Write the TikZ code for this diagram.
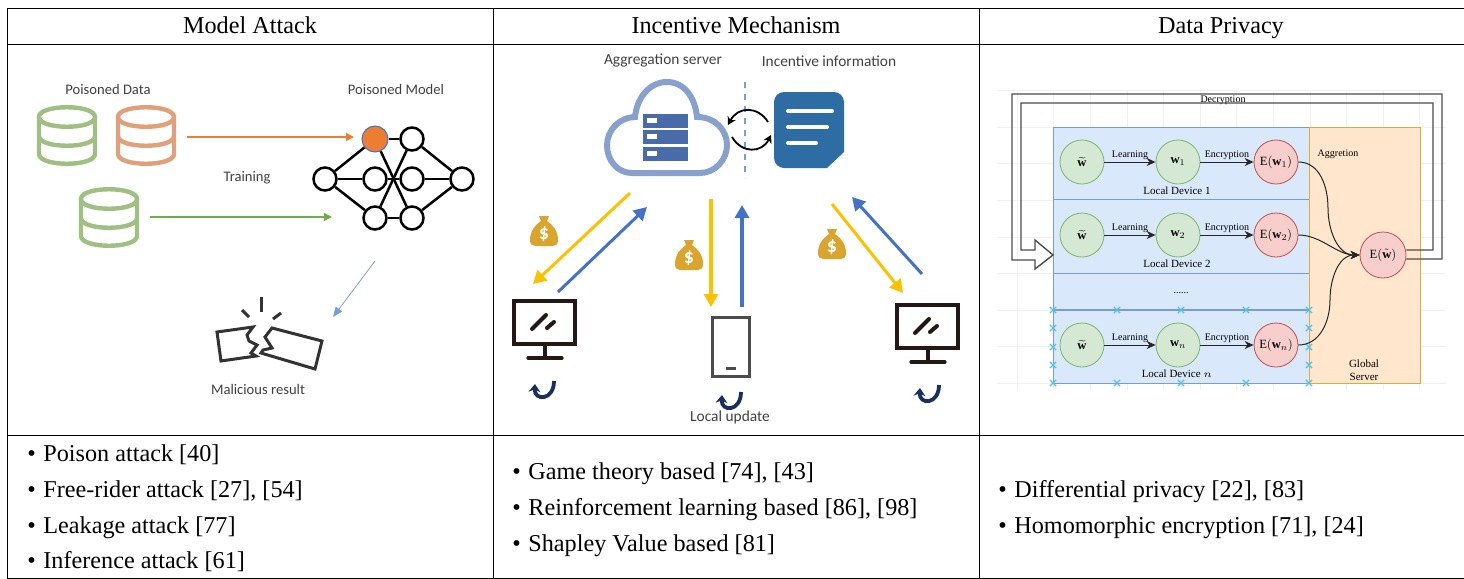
\documentclass[tikz,border=0pt]{standalone}
\usepackage{fontspec}
\usepackage{graphicx}
\setmainfont{Liberation Serif}
\newfontfamily\figfont{Carlito}
\usetikzlibrary{arrows.meta,calc,shapes.misc}
\definecolor{dbgreen}{HTML}{A0BF82}
\definecolor{dborange}{HTML}{E0A07A}
\definecolor{arrorange}{HTML}{ED7D31}
\definecolor{arrgreen}{HTML}{70AD47}
\definecolor{arrblue}{HTML}{4472C4}
\definecolor{arryellow}{HTML}{FFC000}
\definecolor{cloudblue}{HTML}{87A0CC}
\definecolor{rackblue}{HTML}{4A6BAA}
\definecolor{docblue}{HTML}{2E6DA4}
\definecolor{baggold}{HTML}{D9A52E}
\definecolor{termblack}{HTML}{231815}
\definecolor{loopnavy}{HTML}{1B2F5E}
\definecolor{panelblue}{HTML}{DAE8FC}
\definecolor{panelblueline}{HTML}{7E9CCB}
\definecolor{panelorange}{HTML}{FFE6CC}
\definecolor{panelorangeline}{HTML}{E3A93C}
\definecolor{nodegreen}{HTML}{D5E8D4}
\definecolor{nodegreenline}{HTML}{82B366}
\definecolor{nodered}{HTML}{F8CECC}
\definecolor{noderedline}{HTML}{B85450}
\definecolor{crosscyan}{HTML}{4FC3E8}
\tikzset{
  cellhead/.style={anchor=base,font=\fontsize{12.1}{14}\selectfont},
  itemtext/.style={anchor=base west,font=\fontsize{12.1}{14}\selectfont,inner sep=0},
  figlabel/.style={font=\figfont\fontsize{7.3}{8}\selectfont,text=black!75,inner sep=0},
  figlabelb/.style={figlabel,font=\figfont\fontsize{7.7}{9}\selectfont},
  neuron/.style={circle,draw,line width=1.25pt,fill=white,minimum size=11.5pt,inner sep=0},
  syn/.style={line width=1.25pt},
  thickarr/.style={line width=1.5pt,-{Triangle[length=6.5pt,width=7pt]}},
  flowlabel/.style={font=\fontsize{5}{6}\selectfont,inner sep=1pt},
  devlabel/.style={font=\fontsize{5.5}{6.6}\selectfont,inner sep=1pt},
  greennode/.style={circle,draw=nodegreenline,fill=nodegreen,line width=.4pt,minimum size=22pt,inner sep=0},
  rednode/.style={circle,draw=noderedline,fill=nodered,line width=.4pt,minimum size=22pt,inner sep=0},
  flowarr/.style={line width=.5pt,black!85,-{Stealth[length=4.5pt,width=4pt]}},
  crossmark/.style={cross out,draw=crosscyan,line width=.6pt,minimum size=2.5pt,inner sep=0},
}
\newcommand{\nodemath}[1]{\scalebox{.63}{$#1$}}
\newcommand{\dbicon}[4]{% name, x, y, colour
  \begin{scope}[shift={(#2,#3)},draw=#4,line width=2.2pt]
    \node[minimum width=30pt,minimum height=31pt,inner sep=0] (#1) at (0,0) {};
    \draw (-28,-18) .. controls (-28,-31) and (28,-31) .. (28,-18)
      .. controls (28,-5) and (-28,-5) .. (-28,-18) -- cycle;
    \draw (-28,-18) -- (-28,19) .. controls (-28,32) and (28,32) .. (28,19) -- (28,-18);
    \draw (-28,1) .. controls (-28,14) and (28,14) .. (28,1);
  \end{scope}}
\newcommand{\moneybag}[3]{% name, x, y
  \begin{scope}[shift={(#2,#3)}]
    \fill[baggold] (-5,-15) -- (5,-15) -- (3,-10) .. controls (9,-6) and (14,0) .. (14,9)
      .. controls (14,13) and (12,15) .. (9,15) -- (-9,15)
      .. controls (-12,15) and (-14,13) .. (-14,9) .. controls (-14,0) and (-9,-6) .. (-3,-10) -- cycle;
    \node[text=white,inner sep=0,font=\figfont\bfseries\fontsize{10}{10}\selectfont] (#1) at (0,3) {\$};
  \end{scope}}
\newcommand{\monitor}[2]{% x, y of frame corner
  \begin{scope}[shift={(#1,#2)},draw=termblack,line width=1.6pt]
    \draw (0,0) rectangle (61,43);
    \draw (31,43) -- (31,57);
    \draw[line cap=round] (14,57) -- (48,57);
    \draw[line cap=round,line width=2pt] (18,28) -- (32,14);
    \draw[line cap=round,line width=2pt] (33,27) -- (40,21);
  \end{scope}}
\newcommand{\updateloop}[2]{% x, y
  \draw[loopnavy,line width=1.9pt,-{Stealth[length=4pt,width=6pt]},shift={(#1,#2)}]
    (10,-7) .. controls (10,13) and (-10,13) .. (-9,-4);}
\begin{document}
\begin{tikzpicture}[x=.5pt,y=-.5pt]
  \useasboundingbox (0,0) rectangle (1464,579);
  % table rules
  \draw[line width=.5pt] (7,8) rectangle (1464,578);
  \draw[line width=.5pt] (7,44) -- (1464,44);
  \draw[line width=.5pt] (7,435) -- (1464,435);
  \draw[line width=.5pt] (493,8) -- (493,578);
  \draw[line width=.5pt] (979,8) -- (979,578);
  \node[cellhead] (HA) at (250,33) {Model Attack};
  \node[cellhead] (HB) at (736,33) {Incentive Mechanism};
  \node[cellhead] (HC) at (1221,33) {Data Privacy};

  % model attack
  \node[figlabel] (LPD) at (108,89) {Poisoned Data};
  \node[figlabel] (LPM) at (396,89) {Poisoned Model};
  \node[figlabel] (LTR) at (247,178) {Training};
  \node[figlabel] (LMR) at (258,389) {Malicious result};
  \dbicon{DBA}{67}{135}{dbgreen}
  \dbicon{DBB}{146}{135}{dborange}
  \dbicon{DBC}{109}{217}{dbgreen}
  \node[neuron] (I) at (325,179) {};
  \node[neuron,fill=arrorange,draw=arrblue,line width=.5pt,minimum size=13pt] (A1) at (375,139) {};
  \node[neuron] (A2) at (375,179) {};
  \node[neuron] (A3) at (375,218) {};
  \node[neuron] (B1) at (412,139) {};
  \node[neuron] (B2) at (412,179) {};
  \node[neuron] (B3) at (412,218) {};
  \node[neuron] (O) at (462,179) {};
  \foreach \i in {1,2,3}{
    \draw[syn] (I) -- (A\i);
    \draw[syn] (A\i) -- (B\i);
    \draw[syn] (B\i) -- (O);
  }
  \draw[syn] (A1) -- (B3);
  \draw[syn] (A3) -- (B1);
  \coordinate (OS) at (187,137);
  \coordinate (OE) at (354,137);
  \coordinate (GS) at (150,217);
  \coordinate (GE) at (332,217);
  \coordinate (RS) at (375,261);
  \coordinate (RE) at (333,317);
  \draw[arrorange,line width=.75pt,-{Triangle[length=4pt,width=4pt]}] (OS) -- (OE);
  \draw[arrgreen,line width=.75pt,-{Triangle[length=4pt,width=4pt]}] (GS) -- (GE);
  \draw[arrblue!70,line width=.4pt,-{Triangle[length=5pt,width=4pt]}] (RS) -- (RE);
  \begin{scope}[draw=black!80,line width=1.5pt]
    \draw (217,332) -- (253,327) -- (247,335) -- (249,341) -- (257,345) -- (251,353) -- (256,356) -- (221,361) -- cycle;
    \draw (272,328) -- (322,341) -- (315,369) -- (261,353) -- (263,350) -- (272,348) -- (265,337) -- cycle;
    \draw (261,297) -- (261,312);
    \draw (242,310) -- (249,317);
    \draw (281,313) -- (273,319);
  \end{scope}

  % incentive mechanism
  \node[figlabelb] (LAS) at (663,60) {Aggregation server};
  \node[figlabelb] (LII) at (829,61) {Incentive information};
  \node[figlabelb] (LLU) at (730,417) {Local update};
  \draw[cloudblue,line width=3pt] (632,173) .. controls (617,173) and (607,160) .. (607,145)
    .. controls (607,130) and (620,117) .. (635,117) .. controls (637,97) and (650,82) .. (667,82)
    .. controls (684,82) and (695,97) .. (697,117) .. controls (715,117) and (727,130) .. (727,145)
    .. controls (727,160) and (715,173) .. (700,173) -- cycle;
  \foreach \y in {114,130,147}{
    \fill[rackblue] (643,\y) rectangle (688,\y+14);
    \fill[white] (647,\y+4) rectangle (657,\y+9);
  }
  \draw[arrblue!70,line width=.7pt,dashed] (745,82) -- (745,178);
  \fill[docblue,rounded corners=5pt] (774,130) -- (774,92) -- (844,92) -- (844,140) [sharp corners] -- (844,152) -- (827,168) [rounded corners=5pt] -- (774,168) -- cycle;
  \foreach \ys/\xe in {111/832,127/827,143/816}
    \draw[white,line width=2pt,line cap=round] (788,\ys) -- (\xe,\ys);
  \draw[line width=.9pt,-{Stealth[length=4pt,width=4.5pt]}] (768,122) .. controls (758,106) and (738,106) .. (728,125);
  \draw[line width=.9pt,-{Stealth[length=4pt,width=4.5pt]}] (732,137) .. controls (742,154) and (762,153) .. (771,135);
  \coordinate (YLS) at (630,193);
  \coordinate (YLE) at (533,284);
  \coordinate (BLS) at (558,292);
  \coordinate (BLE) at (647,207);
  \coordinate (YMS) at (711,199);
  \coordinate (YME) at (711,307);
  \coordinate (BMS) at (742,307);
  \coordinate (BME) at (742,205);
  \coordinate (YRS) at (832,204);
  \coordinate (YRE) at (903,293);
  \coordinate (BRS) at (922,274);
  \coordinate (BRE) at (852,197);
  \draw[thickarr,arryellow] (YLS) -- (YLE);
  \draw[thickarr,arrblue] (BLS) -- (BLE);
  \draw[thickarr,arryellow,line width=1.8pt] (YMS) -- (YME);
  \draw[thickarr,arrblue,line width=1.8pt] (BMS) -- (BME);
  \draw[thickarr,arryellow] (YRS) -- (YRE);
  \draw[thickarr,arrblue] (BRS) -- (BRE);
  \moneybag{BGA}{544}{231}
  \moneybag{BGB}{689}{255}
  \moneybag{BGC}{832}{244}
  \monitor{514}{301}
  \monitor{897}{305}
  \draw[black!70,line width=1.5pt] (712,317) rectangle (749,376);
  \draw[black!70,line width=1.5pt] (726,368) -- (736,368);
  \updateloop{544}{388}
  \updateloop{731}{399}
  \updateloop{929}{392}

  % data privacy
  \foreach \x in {1017,1053.6,...,1446}
    \draw[black!6,line width=.3pt] (\x,90) -- (\x,390);
  \foreach \y in {90.4,127,...,390}
    \draw[black!6,line width=.3pt] (997,\y) -- (1446,\y);
  \fill[panelblue] (1053,127) rectangle (1309,383);
  \fill[panelorange] (1309,127) rectangle (1420,383);
  \draw[panelblueline,line width=.5pt] (1053,127) rectangle (1309,383);
  \draw[panelorangeline,line width=.5pt] (1309,127) rectangle (1420,383);
  \draw[panelblueline,line width=.5pt] (1053,199) -- (1309,199);
  \draw[panelblueline,line width=.5pt] (1053,273) -- (1309,273);
  \draw[panelblueline,line width=.8pt] (1053,310) -- (1309,310);
  \foreach \row/\y/\lab in {1/162/1,2/235/2,n/345/n}{
    \node[greennode] (WT\row) at (1082,\y) {\nodemath{\widetilde{\mathbf{w}}}};
    \node[greennode] (W\row) at (1178,\y) {\nodemath{\mathbf{w}_\lab}};
    \node[rednode] (E\row) at (1276,\y) {\nodemath{\mathrm{E}(\mathbf{w}_\lab)}};
    \draw[flowarr] (WT\row) -- (W\row) node[midway,above,flowlabel,black] {Learning};
    \draw[flowarr] (W\row) -- (E\row) node[midway,above,flowlabel,black] {Encryption};
  }
  \node[devlabel] (LD1) at (1177,191) {Local Device 1};
  \node[devlabel] (LD2) at (1177,264) {Local Device 2};
  \node[devlabel] (LDN) at (1177,374) {Local Device $n$};
  \node[flowlabel] (DOTS) at (1181,293) {......};
  \node[flowlabel] (AGG) at (1338,154) {Aggretion};
  \node[devlabel,align=center] (GS2) at (1364,370) {Global\\Server};
  \node[flowlabel] (DEC) at (1223,100) {Decryption};
  \node[rednode,minimum size=23pt] (EWT) at (1383,255) {\nodemath{\mathrm{E}(\tilde{\mathbf{w}})}};
  \foreach \i/\x/\y in {1/1053/310,2/1117/310,3/1181/310,4/1246/310,5/1309/310,6/1053/328,7/1053/347,8/1053/365,9/1053/383,10/1117/383,11/1181/383,12/1246/383,13/1309/383,14/1309/365,15/1309/347,16/1309/328}
    \node[crossmark] (X\i) at (\x,\y) {};
  \coordinate (C1) at (1328,208);
  \coordinate (C2) at (1330,300);
  \draw[line width=.5pt,black!85] (E1.east) to[out=0,in=90] (C1);
  \draw[flowarr] (C1) to[out=270,in=180] (EWT.west);
  \draw[flowarr] (E2.east) to[out=0,in=180,looseness=.9] (EWT.west);
  \draw[line width=.5pt,black!85] (En.east) to[out=0,in=270] (C2);
  \draw[flowarr] (C2) to[out=90,in=180] (EWT.west);
  \draw[black!70,line width=.7pt] ($(EWT.east)+(0,4)$) -- (1442,259) -- (1442,94) -- (1012,94) -- (1012,260) -- (1035,260) -- (1035,269)
    -- (1053,255) -- (1035,240) -- (1035,250) -- (1021,250) -- (1021,103) -- (1433,103) -- (1433,250) -- ($(EWT.east)+(0,-5)$);

  % lists
  \foreach \i/\x/\y/\txt in {1/27/461/Poison attack [40],2/27/497/{Free-rider attack [27], [54]},3/27/533/Leakage attack [77],4/27/568/Inference attack [61],
    5/512/479/{Game theory based [74], [43]},6/512/515/{Reinforcement learning based [86], [98]},7/512/551/Shapley Value based [81],
    8/998/497/{Differential privacy [22], [83]},9/998/533/{Homomorphic encryption [71], [24]}}
    \node[itemtext] (T\i) at (\x,\y) {\makebox[8pt][l]{•}\txt};
\end{tikzpicture}
\end{document}
